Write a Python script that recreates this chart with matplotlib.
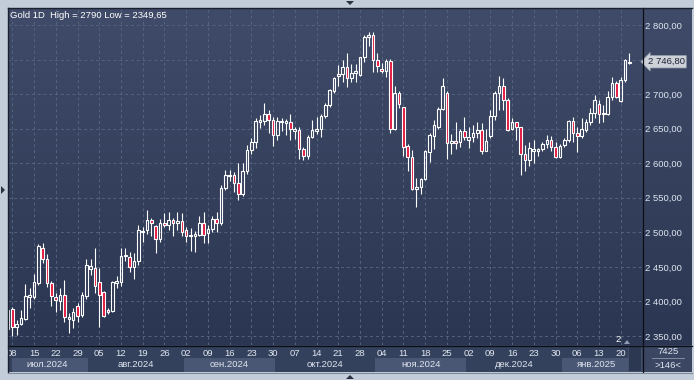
import numpy as np
import pandas as pd
import matplotlib
matplotlib.use("Agg")
import matplotlib.pyplot as plt
import matplotlib.transforms as mtransforms
from matplotlib.patches import Rectangle, Polygon
from matplotlib.colors import LinearSegmentedColormap

plt.rcParams['font.family'] = ['Liberation Sans', 'DejaVu Sans']

# ---------------- data ----------------
start_date = '2024-07-05'
end_date = '2025-01-22'
dates = pd.bdate_range(start_date, end_date)

opens = [2360, 2389, 2363, 2367, 2375, 2407, 2407, 2426, 2478, 2462,
         2426, 2407, 2401, 2409, 2374, 2373, 2393, 2380, 2408, 2447,
         2448, 2428, 2413, 2388, 2386, 2427, 2428, 2465, 2464, 2450,
         2458, 2500, 2503, 2518, 2509, 2491, 2514, 2510, 2518, 2513,
         2516, 2504, 2495, 2494, 2496, 2514, 2499, 2505, 2519, 2513,
         2564, 2581, 2583, 2572, 2555, 2588, 2619, 2630, 2660, 2661,
         2671, 2662, 2641, 2659, 2658, 2659, 2647, 2648, 2620, 2610,
         2638, 2646, 2649, 2668, 2684, 2705, 2726, 2729, 2739, 2724,
         2730, 2728, 2753, 2782, 2786, 2750, 2737, 2734, 2748, 2650,
         2701, 2681, 2625, 2609, 2563, 2565, 2577, 2616, 2640, 2653,
         2678, 2701, 2629, 2632, 2630, 2647, 2633, 2638, 2643, 2648,
         2618, 2640, 2668, 2701, 2711, 2691, 2650, 2659, 2652, 2613,
         2605, 2618, 2618, 2620, 2628, 2634, 2623, 2609, 2626, 2633,
         2661, 2644, 2639, 2648, 2659, 2672, 2685, 2671, 2671, 2696,
         2716, 2690, 2720, 2744.5]
highs = [2392, 2392, 2373, 2388, 2425, 2420, 2439, 2483, 2484, 2468,
         2429, 2412, 2419, 2431, 2383, 2390, 2397, 2414, 2462, 2462,
         2478, 2448, 2415, 2390, 2429, 2437, 2477, 2478, 2472, 2470,
         2511, 2508, 2532, 2520, 2511, 2519, 2528, 2530, 2521, 2530,
         2528, 2508, 2506, 2502, 2524, 2530, 2511, 2524, 2530, 2568,
         2590, 2590, 2587, 2600, 2600, 2626, 2637, 2665, 2670, 2687,
         2677, 2667, 2667, 2665, 2664, 2671, 2653, 2652, 2624, 2641,
         2662, 2667, 2671, 2687, 2708, 2725, 2742, 2750, 2759, 2744,
         2744, 2754, 2786, 2790, 2790, 2759, 2745, 2751, 2751, 2712,
         2704, 2682, 2628, 2619, 2578, 2579, 2619, 2643, 2662, 2682,
         2723, 2704, 2642, 2659, 2650, 2667, 2653, 2656, 2659, 2658,
         2650, 2677, 2704, 2726, 2723, 2694, 2665, 2660, 2653, 2626,
         2631, 2634, 2622, 2630, 2641, 2640, 2631, 2628, 2636, 2662,
         2667, 2652, 2665, 2664, 2680, 2699, 2691, 2684, 2704, 2725,
         2719, 2725, 2751, 2759]
lows = [2355, 2349.65, 2351, 2366, 2373, 2391, 2403, 2424, 2455, 2421,
        2394, 2384, 2388, 2370, 2354, 2361, 2370, 2378, 2403, 2438,
        2412, 2363, 2378, 2382, 2384, 2419, 2422, 2458, 2443, 2432,
        2453, 2486, 2497, 2494, 2470, 2486, 2508, 2503, 2494, 2503,
        2494, 2486, 2473, 2472, 2494, 2485, 2485, 2500, 2501, 2511,
        2561, 2574, 2559, 2547, 2552, 2585, 2614, 2622, 2651, 2655,
        2643, 2625, 2634, 2646, 2641, 2633, 2635, 2606, 2605, 2606,
        2636, 2642, 2638, 2666, 2682, 2702, 2711, 2718, 2710, 2718,
        2718, 2726, 2747, 2769, 2732, 2732, 2731, 2725, 2644, 2648,
        2680, 2611, 2589, 2561, 2537, 2555, 2576, 2602, 2620, 2650,
        2677, 2606, 2613, 2621, 2624, 2634, 2622, 2631, 2637, 2614,
        2617, 2636, 2662, 2677, 2677, 2647, 2648, 2634, 2583, 2588,
        2596, 2600, 2610, 2618, 2622, 2618, 2607, 2607, 2624, 2631,
        2631, 2616, 2637, 2645, 2655, 2665, 2658, 2660, 2670, 2692,
        2694, 2689, 2718, 2743]
closes = [2388, 2363, 2368, 2376, 2408, 2409, 2428, 2480, 2462, 2426,
          2408, 2402, 2409, 2377, 2377, 2385, 2379, 2409, 2452, 2451,
          2422, 2409, 2379, 2384, 2428, 2430, 2466, 2467, 2450, 2459,
          2503, 2502, 2518, 2514, 2491, 2514, 2510, 2518, 2513, 2516,
          2501, 2494, 2495.5, 2497, 2514, 2496, 2505, 2519, 2513, 2564,
          2583, 2583, 2572, 2555, 2589, 2619, 2630, 2661, 2662, 2671,
          2662, 2641, 2661, 2661, 2661, 2650, 2650, 2620, 2610, 2638,
          2648, 2649, 2668, 2684, 2706, 2723, 2729, 2739, 2724, 2731,
          2733, 2753, 2782, 2786, 2750, 2741, 2734, 2748, 2650, 2701,
          2685, 2624, 2609, 2563, 2565, 2577, 2617, 2641, 2655, 2679,
          2712, 2629, 2632, 2629, 2647, 2638, 2638, 2643, 2648, 2618,
          2632, 2668, 2701, 2711, 2691, 2648, 2659, 2652, 2613, 2605,
          2622, 2621, 2620, 2628, 2634, 2623, 2609, 2625, 2634, 2661,
          2643, 2639, 2650, 2660, 2672, 2691, 2671, 2672, 2696, 2716,
          2696, 2721, 2749, 2746.8]

y_ticks = [2350, 2400, 2450, 2500, 2550, 2600, 2650, 2700, 2750, 2800]
hidden_tick = 2750  # covered by the last-price marker in the reference
months_ru = ['янв', 'фев', 'мар', 'апр', 'май', 'июн',
             'июл', 'авг', 'сен', 'окт', 'ноя', 'дек']
title_text = 'Gold 1D  High = 2790 Low = 2349,65'
bars_total = '7425'
bars_visible = '>146<'


def fmt_price(v):
    return f"{v:,.2f}".replace(',', ' ').replace('.', ',')


# ---------------- figure ----------------
W, H = 694, 380
fig = plt.figure(figsize=(W / 100, H / 100), dpi=100)
fig.patch.set_facecolor('#c3cdd9')


def px_rect(x0, y0, x1, y1):
    return [x0 / W, 1 - y1 / H, (x1 - x0) / W, (y1 - y0) / H]


grad = LinearSegmentedColormap.from_list('bg', ['#2b3652', '#3f4b68'])
gimg = np.linspace(0, 1, 256).reshape(-1, 1)

# right axis panel
ax_r = fig.add_axes(px_rect(642, 8, 692, 345), zorder=0)
ax_r.imshow(gimg, cmap=grad, aspect='auto', origin='lower',
            extent=[0, 1, 0, 1], transform=ax_r.transAxes)
ax_r.set_axis_off()

# bottom axis panel
ax_b = fig.add_axes(px_rect(8, 345, 642, 372), zorder=0)
ax_b.set_facecolor('#34415c')
ax_b.set_xticks([]); ax_b.set_yticks([])
for s in ax_b.spines.values():
    s.set_visible(False)

# corner panel
ax_c = fig.add_axes(px_rect(642, 345, 692, 372), zorder=0)
ax_c.set_facecolor('#3a4662')
ax_c.set_xticks([]); ax_c.set_yticks([])
for s in ax_c.spines.values():
    s.set_visible(False)

# main plot
ax = fig.add_axes(px_rect(8, 8, 642, 345), zorder=2)
ax.imshow(gimg, cmap=grad, aspect='auto', origin='lower',
          extent=[0, 1, 0, 1], transform=ax.transAxes, zorder=-10)

n = len(closes)
x = np.arange(n)
o = np.array(opens, float)
h = np.array(highs, float)
l = np.array(lows, float)
c = np.array(closes, float)
top = np.maximum(o, c)
bot = np.minimum(o, c)
down = c < o

ax.vlines(x, top, h, color='white', lw=0.8, zorder=3)
ax.vlines(x, l, bot, color='white', lw=0.8, zorder=3)
face = np.where(down, '#e3173e', 'none')
ax.bar(x, top - bot, bottom=bot, width=0.6, color=list(face),
       edgecolor='white', linewidth=0.8, zorder=4)

ax.set_xlim(0, 145.9)
ax.set_ylim(2336.9, 2824.6)

# ticks
monday_idx = [i for i, d in enumerate(dates) if d.weekday() == 0]
ax.set_xticks(monday_idx)
ax.set_xticklabels([dates[i].strftime('%d') for i in monday_idx])
ax.set_yticks(y_ticks)
ax.set_yticklabels(['' if v == hidden_tick else fmt_price(v) for v in y_ticks])
ax.yaxis.tick_right()
ax.tick_params(axis='y', length=0, pad=2.2, labelsize=6.8, colors='#dfe6f0')
ax.tick_params(axis='x', length=0, pad=3.0, labelsize=6.8, colors='#dfe6f0')
ax.grid(True, color='#56637f', lw=0.7, linestyle=(0, (3, 3)))
ax.set_axisbelow(True)
for s in ax.spines.values():
    s.set_visible(False)

# month bands + labels
blend = mtransforms.blended_transform_factory(ax.transData, fig.transFigure)
month_keys = pd.Series(dates.to_period('M'))
groups = {}
for i, k in enumerate(month_keys):
    groups.setdefault(k, []).append(i)
for j, (k, idx) in enumerate(groups.items()):
    x0 = max(idx[0] - 0.5, 0.85)
    x1 = min(idx[-1] + 0.5, 142.8)
    if j % 2 == 0:
        ax.add_patch(Rectangle((x0, 1 - 372 / H), x1 - x0, 14 / H,
                               transform=blend, facecolor='#4a5774',
                               edgecolor='none', clip_on=False, zorder=1))
    lab = f"{months_ru[k.month - 1]}.{k.year}"
    ax.text((idx[0] - 0.5 + idx[-1] + 0.5) / 2, 1 - 364.5 / H, lab,
            transform=blend, ha='center', va='center', fontsize=6.8,
            color='#dfe6f0', clip_on=False, zorder=2)

# last price label
ax.annotate(fmt_price(closes[-1]),
            xy=(1, closes[-1]), xycoords=('axes fraction', 'data'),
            xytext=(4, 0), textcoords='offset points', va='center', ha='left',
            fontsize=6.8, color='#1b2233',
            bbox=dict(boxstyle='larrow,pad=0.18', fc='#cdd1d8', ec='#9aa3b0', lw=0.5),
            annotation_clip=False, zorder=6)

# title
fig.text(10 / W, 1 - 15 / H, title_text, fontsize=6.8, color='white',
         va='center', ha='left', zorder=10)

# small marker near bottom right
fig.text(618 / W, 1 - 340 / H, '2', fontsize=6.8, color='white',
         va='center', ha='center', zorder=10)
fig.add_artist(Polygon([[624 / W, 1 - 344 / H], [630 / W, 1 - 344 / H], [627 / W, 1 - 340 / H]],
                       closed=True, transform=fig.transFigure, fc='#8f9bb0', ec='none', zorder=10))
# scroll box
fig.add_artist(Rectangle((628 / W, 1 - 371 / H), 13 / W, 25 / H, transform=fig.transFigure,
                         fc='#2c3751', ec='#4c5873', lw=0.5, zorder=9))

# corner texts
fig.text(668 / W, 1 - 352 / H, bars_total, fontsize=6.8, color='#dfe6f0',
         va='center', ha='center', zorder=10)
fig.text(668 / W, 1 - 365 / H, bars_visible, fontsize=6.8, color='#dfe6f0',
         va='center', ha='center', zorder=10)
fig.add_artist(plt.Line2D([652 / W, 684 / W], [1 - 357.5 / H] * 2, transform=fig.transFigure,
                          color='#8c98ad', lw=0.6, zorder=10))

# frame lines
fig.add_artist(plt.Line2D([642.5 / W] * 2, [1 - 8 / H, 1 - 372 / H], transform=fig.transFigure,
                          color='#0b0e14', lw=0.9, zorder=11))
fig.add_artist(plt.Line2D([8 / W, 692 / W], [1 - 345.5 / H] * 2, transform=fig.transFigure,
                          color='#0b0e14', lw=0.9, zorder=11))
fig.add_artist(plt.Line2D([7.5 / W] * 2, [1 - 7.5 / H, 1 - 372 / H], transform=fig.transFigure,
                          color='#1a2030', lw=1.0, zorder=11))
fig.add_artist(plt.Line2D([7.5 / W, 692 / W], [1 - 7.5 / H] * 2, transform=fig.transFigure,
                          color='#1a2030', lw=1.0, zorder=11))
fig.add_artist(plt.Line2D([8 / W, 692 / W], [1 - 372.5 / H] * 2, transform=fig.transFigure,
                          color='#7d8899', lw=0.8, zorder=11))

# outer frame arrows
for pts in ([[346, 1], [354, 1], [350, 5]],
            [[1, 186], [1, 194], [5, 190]],
            [[346, 379], [354, 379], [350, 375]]):
    fig.add_artist(Polygon([[px / W, 1 - py / H] for px, py in pts], closed=True,
                           transform=fig.transFigure, fc='#2a3141', ec='none', zorder=12))

fig.savefig('out.png', dpi=100, facecolor=fig.get_facecolor())
